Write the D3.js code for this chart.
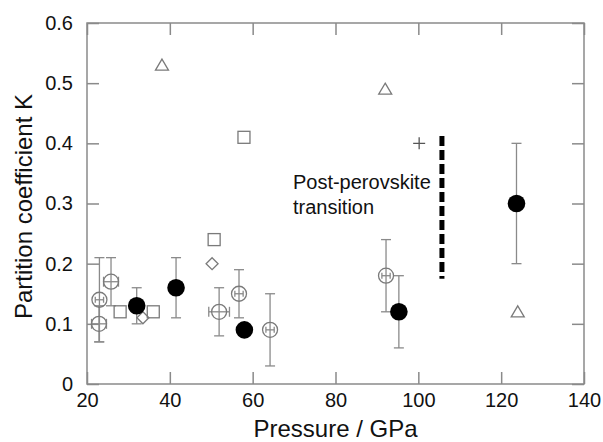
<!DOCTYPE html>
<html>
<head>
<meta charset="utf-8">
<script src="https://cdn.jsdelivr.net/npm/d3@7"></script>
<style>
    body { margin: 0; background: #fff; }
    svg { display: block; font-family: "Liberation Sans", Arial, sans-serif; }
    .tick-label { font-size: 20px; fill: #111; }
    .axis-title { font-size: 24px; fill: #111; }
    .note { font-size: 20px; fill: #111; }
</style>
</head>
<body>
<div id="chart"></div>
<script>
// filled circles
const filledP = [32, 41.5, 58, 95.3, 123.7];
const filledK = [0.13, 0.16, 0.09, 0.12, 0.30];
const filledErr = [0.03, 0.05, 0, 0.06, 0.10];

// open circles with error bars
const openP = [22.9, 23, 25.8, 51.9, 56.7, 64.2, 92.2];
const openK = [0.10, 0.14, 0.17, 0.12, 0.15, 0.09, 0.18];
const openErr = [0.03, 0.07, 0.04, 0.04, 0.04, 0.06, 0.06];
const openPErr = [1.8, 1, 1.8, 2.5, 1, 1, 1];

const squareP = [28, 36, 50.7, 57.9];
const squareK = [0.12, 0.12, 0.24, 0.41];

const triangleP = [38.1, 92, 124];
const triangleK = [0.53, 0.49, 0.12];

const diamondP = [50.2, 33.5];
const diamondK = [0.20, 0.11];

const plusP = [100.2];
const plusK = [0.40];

const transitionP = 105.7;
const transitionK = [0.175, 0.412];
const noteLines = ["Post-perovskite", "transition"];

const xTicks = [20, 40, 60, 80, 100, 120, 140];
const yTicks = [0, 0.1, 0.2, 0.3, 0.4, 0.5, 0.6];

const width = 603;
const height = 442;
const margin = { top: 23, right: 19, bottom: 58, left: 87 };
const innerWidth = width - margin.left - margin.right;
const innerHeight = height - margin.top - margin.bottom;

const grey = "#8a8a8a";
const markGrey = "#7a7a7a";

const svg = d3.select("#chart")
    .append("svg")
    .attr("width", width)
    .attr("height", height);

const chart = svg.append("g")
    .attr("transform", `translate(${margin.left},${margin.top})`);

const x = d3.scaleLinear().domain([20, 140]).range([0, innerWidth]);
const y = d3.scaleLinear().domain([0, 0.6]).range([innerHeight, 0]);

// inward ticks on all four sides
const tickLen = 12;
chart.append("g")
    .attr("transform", `translate(0,${innerHeight})`)
    .call(d3.axisBottom(x).tickValues(xTicks).tickSizeInner(-tickLen).tickSizeOuter(0).tickPadding(9).tickFormat(d => d))
    .call(g => g.select(".domain").remove())
    .call(g => g.selectAll("line").attr("stroke", grey).attr("stroke-width", 1.5))
    .call(g => g.selectAll("text").attr("class", "tick-label").attr("font-size", null).attr("font-family", null).attr("dy", "0.71em"));

chart.append("g")
    .call(d3.axisTop(x).tickValues(xTicks).tickSizeInner(-tickLen).tickSizeOuter(0).tickFormat(""))
    .call(g => g.select(".domain").remove())
    .call(g => g.selectAll("line").attr("stroke", grey).attr("stroke-width", 1.5));

chart.append("g")
    .call(d3.axisLeft(y).tickValues(yTicks).tickSizeInner(-tickLen).tickSizeOuter(0).tickPadding(14).tickFormat(d => d === 0 ? "0" : d3.format(".1f")(d)))
    .call(g => g.select(".domain").remove())
    .call(g => g.selectAll("line").attr("stroke", grey).attr("stroke-width", 1.5))
    .call(g => g.selectAll("text").attr("class", "tick-label").attr("font-size", null).attr("font-family", null));

chart.append("g")
    .attr("transform", `translate(${innerWidth},0)`)
    .call(d3.axisRight(y).tickValues(yTicks).tickSizeInner(-tickLen).tickSizeOuter(0).tickFormat(""))
    .call(g => g.select(".domain").remove())
    .call(g => g.selectAll("line").attr("stroke", grey).attr("stroke-width", 1.5));

chart.append("rect")
    .attr("width", innerWidth)
    .attr("height", innerHeight)
    .attr("fill", "none")
    .attr("stroke", grey)
    .attr("stroke-width", 1.5);

// error bars
const cap = 5;
const openData = openP.map((p, i) => ({ p, k: openK[i], e: openErr[i], pe: openPErr[i] }));
const filledData = filledP.map((p, i) => ({ p, k: filledK[i], e: filledErr[i] }));

function vErr(g, d) {
    if (!d.e) return;
    const x0 = x(d.p);
    const lo = y(d.k - d.e), hi = y(d.k + d.e);
    g.append("line").attr("x1", x0).attr("x2", x0).attr("y1", lo).attr("y2", hi);
    g.append("line").attr("x1", x0 - cap).attr("x2", x0 + cap).attr("y1", lo).attr("y2", lo);
    g.append("line").attr("x1", x0 - cap).attr("x2", x0 + cap).attr("y1", hi).attr("y2", hi);
}

function hErr(g, d) {
    const y0 = y(d.k);
    const l = x(d.p - d.pe), r = x(d.p + d.pe);
    const c = d.pe > 1.5 ? cap : 3;
    g.append("line").attr("x1", l).attr("x2", r).attr("y1", y0).attr("y2", y0);
    g.append("line").attr("x1", l).attr("x2", l).attr("y1", y0 - c).attr("y2", y0 + c);
    g.append("line").attr("x1", r).attr("x2", r).attr("y1", y0 - c).attr("y2", y0 + c);
}

const errG = chart.append("g")
    .attr("stroke", grey)
    .attr("stroke-width", 1.3)
    .attr("fill", "none");

openData.forEach(d => { vErr(errG, d); hErr(errG, d); });
filledData.forEach(d => vErr(errG, d));

// open symbols
chart.selectAll(".sq")
    .data(squareP.map((p, i) => ({ p, k: squareK[i] })))
    .enter()
    .append("rect")
    .attr("x", d => x(d.p) - 6)
    .attr("y", d => y(d.k) - 6)
    .attr("width", 12)
    .attr("height", 12)
    .attr("fill", "none")
    .attr("stroke", markGrey)
    .attr("stroke-width", 1.3);

chart.selectAll(".tri")
    .data(triangleP.map((p, i) => ({ p, k: triangleK[i] })))
    .enter()
    .append("path")
    .attr("transform", d => `translate(${x(d.p)},${y(d.k)})`)
    .attr("d", "M0,-6L6.5,5L-6.5,5Z")
    .attr("fill", "none")
    .attr("stroke", markGrey)
    .attr("stroke-width", 1.3);

chart.selectAll(".dia")
    .data(diamondP.map((p, i) => ({ p, k: diamondK[i] })))
    .enter()
    .append("path")
    .attr("transform", d => `translate(${x(d.p)},${y(d.k)})`)
    .attr("d", "M0,-6L6,0L0,6L-6,0Z")
    .attr("fill", "none")
    .attr("stroke", markGrey)
    .attr("stroke-width", 1.3);

chart.selectAll(".plus")
    .data(plusP.map((p, i) => ({ p, k: plusK[i] })))
    .enter()
    .append("path")
    .attr("transform", d => `translate(${x(d.p)},${y(d.k)})`)
    .attr("d", "M-6,0H6M0,-6V6")
    .attr("fill", "none")
    .attr("stroke", "#555")
    .attr("stroke-width", 1.3);

chart.selectAll(".open")
    .data(openData)
    .enter()
    .append("circle")
    .attr("cx", d => x(d.p))
    .attr("cy", d => y(d.k))
    .attr("r", 7.5)
    .attr("fill", "none")
    .attr("stroke", markGrey)
    .attr("stroke-width", 1.3);

chart.selectAll(".filled")
    .data(filledData)
    .enter()
    .append("circle")
    .attr("cx", d => x(d.p))
    .attr("cy", d => y(d.k))
    .attr("r", 8.8)
    .attr("fill", "#000");

// post-perovskite transition
chart.append("line")
    .attr("x1", x(transitionP))
    .attr("x2", x(transitionP))
    .attr("y1", y(transitionK[1]))
    .attr("y2", y(transitionK[0]))
    .attr("stroke", "#000")
    .attr("stroke-width", 5)
    .attr("stroke-dasharray", "10,4");

chart.append("text")
    .attr("class", "note")
    .selectAll("tspan")
    .data(noteLines)
    .enter()
    .append("tspan")
    .attr("x", x(transitionP) - 149)
    .attr("y", (d, i) => y(transitionK[1]) + 53 + i * 25)
    .text(d => d);

// axis titles
svg.append("text")
    .attr("class", "axis-title")
    .attr("x", margin.left + innerWidth / 2)
    .attr("y", 437)
    .attr("text-anchor", "middle")
    .text("Pressure / GPa");

svg.append("text")
    .attr("class", "axis-title")
    .attr("transform", `translate(32,${margin.top + innerHeight / 2 + 3}) rotate(-90)`)
    .attr("text-anchor", "middle")
    .text("Partition coefficient K");
</script>
</body>
</html>
